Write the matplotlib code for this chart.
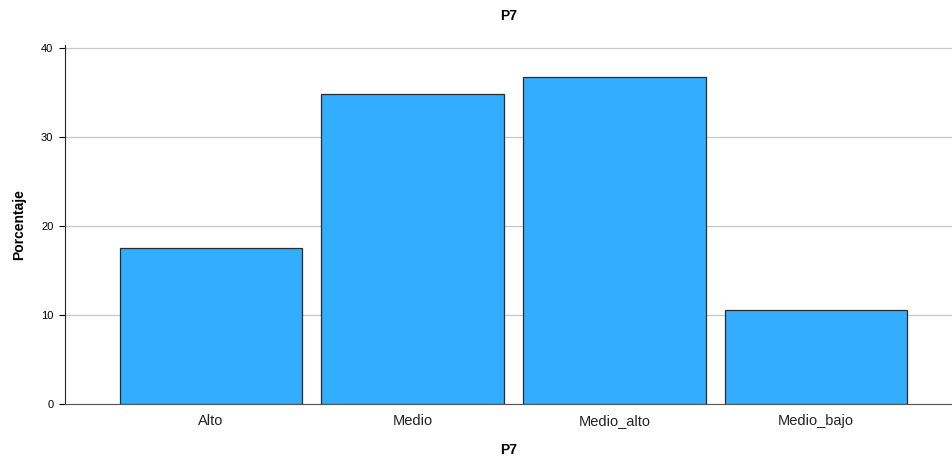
import matplotlib
matplotlib.use("Agg")
import matplotlib.pyplot as plt
import matplotlib.transforms as mtransforms

categories = ["Alto", "Medio", "Medio_alto", "Medio_bajo"]
percentages = [17.6, 34.9, 36.8, 10.6]
y_ticks = [0, 10, 20, 30, 40]

plt.rcParams["font.family"] = ["Liberation Sans", "DejaVu Sans"]

fig = plt.figure(figsize=(9.53, 4.57), dpi=100)
ax = fig.add_axes([0.0677, 0.116, 0.932, 0.786])

x = list(range(len(categories)))
ax.bar(x, percentages, width=0.905, color="#33adff", edgecolor="#2b2b2b", linewidth=0.9, zorder=3)

ax.set_xlim(-0.726, 3.677)
ax.set_ylim(0, 40.4)
ax.set_yticks(y_ticks)
ax.set_xticks(x)
ax.set_xticklabels([""] * len(categories))
ax.tick_params(axis="y", labelsize=8, length=4, width=0.8, pad=4)
ax.tick_params(axis="x", length=0, pad=15)
ax.yaxis.grid(True, color="#c8c8c8", linewidth=0.9, zorder=0)

# category labels on a common baseline
trans = mtransforms.blended_transform_factory(ax.transData, ax.transAxes)
offset = mtransforms.ScaledTranslation(0, -21 / 100, fig.dpi_scale_trans)
for xi, name in zip(x, categories):
    ax.text(xi, 0, name, transform=trans + offset, ha="center", va="baseline",
            fontsize=10.5, color="#222222")

for side in ["top", "right"]:
    ax.spines[side].set_visible(False)
ax.spines["left"].set_color("#222222")
ax.spines["bottom"].set_color("#555555")

ax.set_title("P7", fontsize=10, fontweight="bold", pad=18)
ax.set_xlabel("P7", fontsize=10, fontweight="bold", labelpad=13)
ax.set_ylabel("Porcentaje", fontsize=10, fontweight="bold", labelpad=11)

fig.savefig("out.png", dpi=100)
